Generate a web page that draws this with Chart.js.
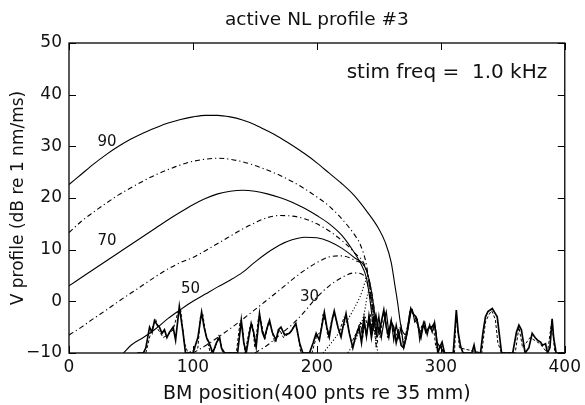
<!DOCTYPE html>
<html>
<head>
<meta charset="utf-8">
<script src="https://cdn.jsdelivr.net/npm/chart.js@4.4.1/dist/chart.umd.min.js"></script>
<style>
  html, body { margin: 0; padding: 0; background: #fff; }
  #wrap { width: 585px; height: 405px; }
</style>
</head>
<body>
<div id="wrap"><canvas id="perfil"></canvas></div>
<script>
// curvas por nivel de estímulo: pares [posición BM, dB]
const nivel90 = [[0,22.6],[10,24.6],[20,26.6],[30,28.4],[40,30],[50,31.4],[60,32.6],[70,33.6],[80,34.5],[90,35.2],[100,35.7],[110,36],[120,36],[130,35.7],[140,35.1],[150,34.2],[160,33],[170,31.7],[180,30.2],[190,28.6],[200,26.8],[210,24.8],[220,22.8],[230,20.5],[240,17.5],[250,14],[255,11.5],[260,7.5],[263,3],[265,0],[268,-5],[272,-6.5],[276,-2]];
const nivel80 = [[0,13.3],[10,15.5],[20,17.3],[30,19],[40,20.6],[50,22],[60,23.3],[70,24.5],[80,25.5],[90,26.4],[100,27.1],[110,27.5],[120,27.7],[130,27.5],[140,27],[150,26.3],[160,25.4],[170,24.4],[180,23.2],[190,21.8],[200,20.2],[210,18.4],[220,16],[230,13],[235,11],[240,7],[243,2],[246,-3],[248,-7]];
const nivel70 = [[0,3],[10,4.6],[20,6.2],[30,7.8],[40,9.4],[50,11],[60,12.6],[70,14.2],[80,15.8],[90,17.3],[100,18.7],[110,19.9],[120,20.8],[130,21.3],[140,21.5],[150,21.3],[160,20.8],[170,20.1],[180,19.2],[190,18],[200,16.6],[210,15],[220,12.8],[230,9.5],[235,7.5],[240,4.5],[243,0],[245,-4]];
const nivel60 = [[0,-6.5],[10,-5],[20,-3.3],[30,-1.7],[40,0],[50,1.6],[60,3.2],[70,4.8],[80,6.3],[90,7.5],[100,8.5],[110,9.8],[120,11.2],[130,12.6],[140,14],[150,15.2],[160,16.2],[170,16.6],[180,16.5],[190,16],[200,15],[210,13.6],[220,11.8],[230,9.5],[240,6],[244,1],[247,-4]];
const nivel50 = [[44,-10],[50,-8.5],[60,-7],[70,-5.3],[80,-3.3],[90,-1.6],[100,0],[110,1.4],[120,2.8],[130,4.1],[140,5.6],[150,7.6],[160,9.4],[170,10.9],[180,11.9],[190,12.4],[200,12.3],[210,11.6],[220,10.3],[230,8.5],[240,6],[244,2],[247,-3],[249,-7]];
const nivel40 = [[100,-10],[110,-8.6],[120,-7],[130,-5.3],[140,-3.5],[150,-1.6],[160,0.3],[170,2.2],[180,4.2],[190,6],[200,7.5],[210,8.6],[220,8.8],[230,8],[240,6],[244,2],[247,-3],[249,-8]];
const nivel30 = [[150,-10],[160,-8.5],[170,-6.5],[180,-4.5],[190,-2],[200,0.8],[210,3],[220,4.6],[230,5.5],[238,5],[243,1],[246,-4],[248,-9]];
const nivel20 = [[205,-10],[215,-7],[225,-3.5],[235,1],[241,4.5],[244,1],[247,-5],[249,-10]];
const nivel10 = [[225,-10],[232,-7],[238,-2.5],[242,2],[245,-3],[248,-9]];

// ruido en la cola de las curvas
const ruidoA = [[55,-10],[60,-10],[62,-9],[65,-5],[67,-6],[69,-3.7],[71,-4.5],[73,-5],[75,-6.2],[77,-5.5],[79,-7],[81,-6],[84,-5],[86,-7.5],[89,-1],[92,-6],[94,-10],[100,-10],[104,-7],[107,-2.1],[109,-5],[111,-7],[113,-8],[116,-10],[119,-8],[121.5,-7],[123,-9],[125.5,-10],[136,-10],[139,-3.7],[141,-8],[143,-10],[145,-7],[147,-4.3],[149,-6],[151,-8.8],[153.7,-2.4],[156,-6],[157.7,-7],[160,-5],[161.8,-3.7],[164,-6],[167,-7.5],[169,-5.5],[171,-5],[174,-6.5],[177.8,-6.2],[180,-5.5],[183,-4.3],[186,-8],[188.6,-10],[194,-10],[197,-8],[199.4,-6.2],[202,-7.5],[206,-2.1],[208,-5],[210,-6.9],[212,-4],[214,-1.9],[217,-5],[219.5,-6.9],[221,-5],[223.5,-2.4],[226,-6],[229,-9],[231,-7],[234,-5],[236,-8],[238,-4],[240,-6.5],[242,-3.5],[244,-7],[246,-4],[247.6,-2.7],[250,-6],[252,-4],[254,-1.7],[256,-5],[258,-6.9],[260,-4],[262,-5],[264,-8],[266,-6],[268,-8.5],[270,-9],[272,-7],[274,-4],[275.8,-1.4],[278,-2.5],[280,-3],[282,-5],[284,-6.9],[286,-4.3],[288,-6],[290.5,-5],[292,-5.3],[294.6,-4.3],[296,-6],[297.6,-10],[299,-9],[301,-7.9],[303,-10],[310,-10],[312.5,-1.7],[314,-6],[316,-8.8],[318,-10],[325,-10],[326.8,-8.5],[328,-10],[332,-10],[334,-6],[336,-3],[338,-2],[341.5,-1.4],[343,-2],[345.5,-3],[347,-6],[349,-10],[358,-10],[361,-6],[363,-4.6],[365,-5.5],[368,-10],[371,-9],[373.7,-6.2],[376,-7],[378,-7.5],[380.4,-7.9],[382,-8.5],[384.5,-8.2],[386,-10],[388,-9],[389.8,-3.4],[391,-7],[393,-10],[400,-10]];
const ruidoB = [[62,-10],[66,-6],[70,-3.5],[72,-5.5],[76,-7],[80,-6.5],[84,-5.5],[88,-2],[90,-1.5],[93,-8],[96,-10],[104,-9],[106,-3],[108,-2.5],[110,-6],[114,-10],[118,-9],[121,-6.5],[124,-10],[135,-10],[138,-4],[140,-5],[142,-10],[146,-5],[148,-4.5],[150,-9],[153,-3],[155,-4],[158,-7.5],[161,-4],[163,-5],[166,-8],[170,-5.5],[173,-7],[176,-6.5],[179,-6],[182,-4.5],[184,-5],[187,-10],[196,-10],[200,-6.5],[203,-6],[205,-2.5],[207,-4],[209,-7],[213,-2.5],[215,-3],[218,-6],[222,-3],[224,-3.5],[228,-8],[232,-6],[235,-4],[237,-7],[239,-3],[241,-5],[243,-2.5],[245,-6],[248,-3],[251,-7],[253,-3],[255,-2.2],[257,-7],[259,-5],[261,-4.5],[263,-7],[267,-5],[270,-8],[273,-5],[276,-2],[279,-2.8],[283,-6],[285,-4.5],[289,-5.5],[291,-5],[294,-4.8],[296,-9],[300,-8.5],[302,-10],[311,-10],[312.5,-2.5],[315,-9],[333,-10],[336,-4],[339,-2.5],[341,-1.8],[344,-3.5],[346,-8],[349,-10],[360,-10],[363,-5],[366,-9],[372,-7],[380,-8.2],[386,-10],[389.5,-3.8],[392,-10],[400,-10]];
const ruidoC = [[236,-6],[238,-3],[240,-7],[242,-2.5],[244,-5.5],[246,-3],[248,-6.5],[250,-2.8],[252,-7],[254,-4],[256,-2],[258,-6],[260,-3.5],[262,-7.5],[264,-4.5],[266,-7],[268,-5],[270,-9],[273,-6],[275,-2],[277,-1.6],[279,-4],[281,-3.5],[283,-7.5],[285,-5],[287,-4],[289,-6.5],[291,-4.5],[293,-6],[295,-4],[297,-8],[300,-9],[303,-10]];

// etiquetas dentro del gráfico: [texto, x, y]
const etiquetas = [['90', 30.6, 30.8], ['70', 30.6, 11.6], ['50', 98, 2.3], ['30', 194, 0.8]];
const textoEstimulo = 'stim freq =  1.0 kHz';

const FUENTE = '"DejaVu Sans", Verdana, sans-serif';
const DASH_DOT = [5, 3, 1.2, 3];
const DOTTED = [1.2, 2];

function serie(data, dash, width, suave) {
    return {
        data: data, borderColor: '#000', borderWidth: width || 1.1, borderDash: dash || [],
        pointRadius: 0, fill: false,
        tension: suave === false ? 0 : 0.4,
        cubicInterpolationMode: suave === false ? 'default' : 'monotone'
    };
}

const marcoPlugin = {
    id: 'marco',
    afterDatasetsDraw(chart) {
        const { ctx, chartArea: a, scales: { x, y } } = chart;
        ctx.save();
        ctx.strokeStyle = '#000';
        ctx.lineWidth = 1.3;
        ctx.strokeRect(a.left, a.top, a.right - a.left, a.bottom - a.top);
        ctx.lineWidth = 1;
        const L = 7;
        ctx.beginPath();
        x.ticks.forEach(t => {
            const px = Math.round(x.getPixelForValue(t.value)) + 0.5;
            ctx.moveTo(px, a.bottom); ctx.lineTo(px, a.bottom - L);
            ctx.moveTo(px, a.top); ctx.lineTo(px, a.top + L);
        });
        y.ticks.forEach(t => {
            const py = Math.round(y.getPixelForValue(t.value)) + 0.5;
            ctx.moveTo(a.left, py); ctx.lineTo(a.left + L, py);
            ctx.moveTo(a.right, py); ctx.lineTo(a.right - L, py);
        });
        ctx.stroke();

        ctx.fillStyle = '#111';
        ctx.font = '15px ' + FUENTE;
        ctx.textAlign = 'center';
        ctx.textBaseline = 'middle';
        etiquetas.forEach(e => {
            ctx.fillText(e[0], x.getPixelForValue(e[1]), y.getPixelForValue(e[2]));
        });
        ctx.font = '20px ' + FUENTE;
        ctx.textAlign = 'left';
        ctx.fillText(textoEstimulo, x.getPixelForValue(224), y.getPixelForValue(44.3));
        ctx.restore();
    }
};

new Chart(document.getElementById('perfil').getContext('2d'), {
    type: 'line',
    data: {
        datasets: [
            serie(ruidoB, [3, 2], 1, false),
            serie(ruidoC, [], 1.2, false),
            serie(ruidoA, [], 1.7, false),
            serie(nivel90),
            serie(nivel80, DASH_DOT),
            serie(nivel70),
            serie(nivel60, DASH_DOT),
            serie(nivel50),
            serie(nivel40, DASH_DOT),
            serie(nivel30, DASH_DOT),
            serie(nivel20, DOTTED),
            serie(nivel10, DOTTED)
        ]
    },
    options: {
        responsive: true,
        maintainAspectRatio: false,
        animation: false,
        layout: { padding: { left: 0, right: 19, top: 0, bottom: 0 } },
        plugins: {
            legend: { display: false },
            tooltip: { enabled: false },
            title: {
                display: true,
                text: 'active NL profile #3',
                fullSize: false,
                color: '#111',
                font: { family: FUENTE, size: 18.5, weight: 'normal' },
                padding: { top: 9, bottom: 11.8 }
            }
        },
        scales: {
            x: {
                type: 'linear',
                min: 0, max: 400,
                grid: { display: false, drawTicks: false },
                border: { display: false },
                ticks: { stepSize: 100, color: '#111', padding: 4, font: { family: FUENTE, size: 17 } },
                title: { display: true, text: 'BM position(400 pnts re 35 mm)', color: '#111', font: { family: FUENTE, size: 19 }, padding: { top: 0, bottom: 0 } },
                afterFit(s) { s.height = 52; }
            },
            y: {
                min: -10, max: 50,
                grid: { display: false, drawTicks: false },
                border: { display: false },
                ticks: {
                    stepSize: 10, color: '#111', padding: 7, font: { family: FUENTE, size: 17 },
                    callback: v => v < 0 ? '\u2212' + Math.abs(v) : String(v)
                },
                title: { display: true, text: 'V profile (dB re 1 nm/ms)', color: '#111', font: { family: FUENTE, size: 17 }, padding: { top: 8, bottom: 0 } },
                afterFit(s) { s.width = 69; }
            }
        }
    },
    plugins: [marcoPlugin]
});
</script>
</body>
</html>
